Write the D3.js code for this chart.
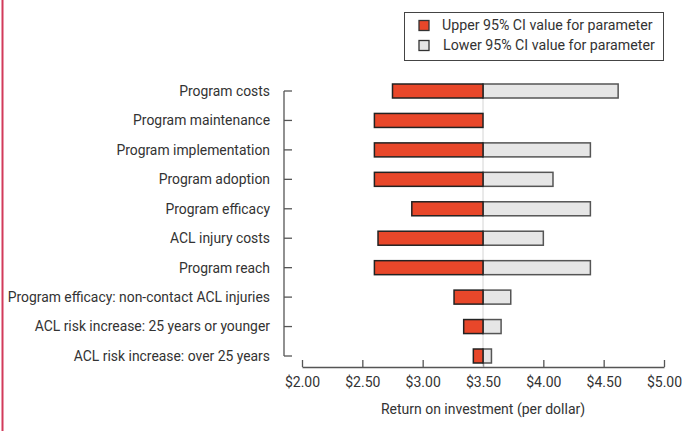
<!DOCTYPE html>
<html>
<head>
<meta charset="utf-8">
<script src="https://cdn.jsdelivr.net/npm/d3@7"></script>
<style>
  body { margin: 0; background: #fff; }
  svg { display: block; font-family: Roboto, "Noto Sans", sans-serif; }
  text { fill: #333; }
</style>
</head>
<body>
<svg width="682" height="431"></svg>
<script>
// parameters, top to bottom
var parameters = [
  "Program costs",
  "Program maintenance",
  "Program implementation",
  "Program adoption",
  "Program efficacy",
  "ACL injury costs",
  "Program reach",
  "Program efficacy: non-contact ACL injuries",
  "ACL risk increase: 25 years or younger",
  "ACL risk increase: over 25 years"
];
// return on investment at upper CI value (left of base)
var upperValues = [2.75, 2.60, 2.60, 2.60, 2.91, 2.63, 2.60, 3.26, 3.34, 3.42];
// return on investment at lower CI value (right of base)
var lowerValues = [4.62, 3.50, 4.39, 4.08, 4.39, 4.00, 4.39, 3.73, 3.65, 3.57];
var baseValue = 3.5;
var xTicks = [2, 2.5, 3, 3.5, 4, 4.5, 5];
var legendLabels = ["Upper 95% CI value for parameter", "Lower 95% CI value for parameter"];

var red = "#e8472a", grey = "#e6e6e6";

var svg = d3.select("svg");

// left page rule
svg.append("line")
  .attr("x1", 2.5).attr("x2", 2.5).attr("y1", 0).attr("y2", 431)
  .attr("stroke", "#d23a5a").attr("stroke-width", 2);

var x = d3.scaleLinear().domain([2, 5]).range([302, 664]);
var y = d3.scalePoint().domain(parameters).range([91, 356]);
var barH = 14;

// y axis bracket
var gy = svg.append("g");
gy.append("line")
  .attr("x1", 284).attr("x2", 284)
  .attr("y1", y(parameters[0])).attr("y2", y(parameters[parameters.length - 1]))
  .attr("stroke", "#555").attr("stroke-width", 1.3);
gy.selectAll("line.tick").data(parameters).enter().append("line")
  .attr("class", "tick")
  .attr("x1", 284).attr("x2", 292)
  .attr("y1", d => y(d)).attr("y2", d => y(d))
  .attr("stroke", "#555").attr("stroke-width", 1.3);
gy.selectAll("text").data(parameters).enter().append("text")
  .attr("x", 270).attr("y", d => y(d))
  .attr("dy", "0.35em")
  .attr("text-anchor", "end")
  .attr("font-size", 13.9)
  .text(d => d);

// x axis
var gx = svg.append("g").attr("transform", "translate(0,367)");
gx.call(d3.axisBottom(x).tickValues(xTicks).tickSize(0).tickPadding(10)
  .tickFormat(d => "$" + d3.format(".2f")(d)));
gx.select(".domain").attr("stroke", "#555").attr("stroke-width", 1.3);
gx.selectAll(".tick").append("line")
  .attr("y1", 0).attr("y2", -7)
  .attr("stroke", "#555").attr("stroke-width", 1.3);
gx.selectAll(".tick text")
  .attr("font-size", 14).attr("font-family", "Roboto, sans-serif").attr("fill", "#333");

svg.append("text")
  .attr("x", x(3.5)).attr("y", 414)
  .attr("text-anchor", "middle")
  .attr("font-size", 14)
  .text("Return on investment (per dollar)");

// base line
svg.append("line")
  .attr("x1", x(baseValue)).attr("x2", x(baseValue))
  .attr("y1", y(parameters[0]) - barH / 2).attr("y2", 367)
  .attr("stroke", "#d4d4d4").attr("stroke-width", 1);

// bars
var rows = parameters.map((p, i) => ({ p: p, up: upperValues[i], lo: lowerValues[i] }));
var bars = svg.append("g");
bars.selectAll("rect.lo").data(rows.filter(d => d.lo > baseValue)).enter().append("rect")
  .attr("class", "lo")
  .attr("x", x(baseValue))
  .attr("y", d => y(d.p) - barH / 2)
  .attr("width", d => x(d.lo) - x(baseValue))
  .attr("height", barH)
  .attr("fill", grey).attr("stroke", "#555").attr("stroke-width", 1.5);
bars.selectAll("rect.up").data(rows).enter().append("rect")
  .attr("class", "up")
  .attr("x", d => x(d.up))
  .attr("y", d => y(d.p) - barH / 2)
  .attr("width", d => x(baseValue) - x(d.up))
  .attr("height", barH)
  .attr("fill", red).attr("stroke", "#222").attr("stroke-width", 1.5);

// legend
var lg = svg.append("g");
lg.append("rect")
  .attr("x", 404.5).attr("y", 12.5).attr("width", 259).attr("height", 48)
  .attr("fill", "#fff").attr("stroke", "#444").attr("stroke-width", 1);
var items = lg.selectAll("g.item").data(legendLabels).enter().append("g")
  .attr("class", "item")
  .attr("transform", (d, i) => "translate(419," + (25.5 + i * 20) + ")");
items.append("rect")
  .attr("x", 0).attr("y", -5).attr("width", 10).attr("height", 10)
  .attr("fill", (d, i) => i === 0 ? red : grey)
  .attr("stroke", "#333").attr("stroke-width", 1.3);
items.append("text")
  .attr("x", (d, i) => 23 + i)
  .attr("dy", "0.35em")
  .attr("font-size", 14.2)
  .text(d => d);
</script>
</body>
</html>
